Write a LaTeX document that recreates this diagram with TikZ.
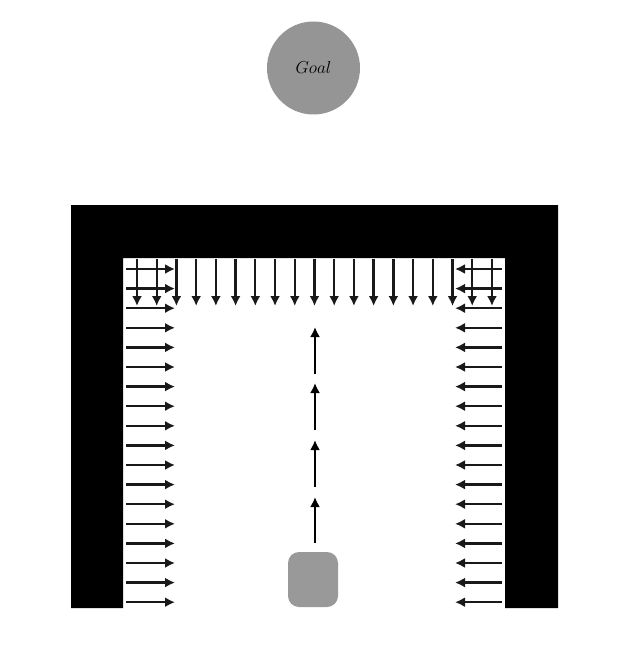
\documentclass[tikz,border=0pt]{standalone}
\usetikzlibrary{arrows.meta}
\definecolor{goalgray}{HTML}{959595}
\definecolor{robotgray}{HTML}{999999}
\tikzset{
  field/.style={line width=2.3pt, draw=black!90, -{Latex[length=10pt,width=10pt]}},
  plan/.style={line width=2.4pt, draw=black, -{Latex[length=10pt,width=10pt]}},
}
\begin{document}
\begin{tikzpicture}[x=1pt,y=-1pt]
\useasboundingbox (0,0) rectangle (628,647);
% walls
\fill[black] (71,205) -- (558,205) -- (558,608) -- (505,608) -- (505,258) -- (123,258) -- (123,608) -- (71,608) -- cycle;
% left wall field
\foreach \i in {0,...,17} {
  \coordinate (ls\i) at (126,269+\i*19.6);
  \coordinate (le\i) at (175,269+\i*19.6);
  \draw[field] (ls\i) -- (le\i);
}
% right wall field
\foreach \i in {0,...,17} {
  \coordinate (rs\i) at (502,269+\i*19.6);
  \coordinate (re\i) at (455,269+\i*19.6);
  \draw[field] (rs\i) -- (re\i);
}
% top wall field
\foreach \i in {0,...,18} {
  \coordinate (ts\i) at (137+\i*19.72,259);
  \coordinate (te\i) at (137+\i*19.72,306);
  \draw[field] (ts\i) -- (te\i);
}
% goal and robot
\node[circle, fill=goalgray, minimum size=93pt, inner sep=0pt] (goal) at (313.5,68) {\fontsize{17}{20}\selectfont$Goal$};
\node[rectangle, rounded corners=11pt, fill=robotgray, minimum width=50pt, minimum height=55pt, inner sep=0pt] (robot) at (313,579.5) {};
% planned path
\coordinate (p0) at (315,543);
\coordinate (p1) at (315,497);
\coordinate (p2) at (315,487);
\coordinate (p3) at (315,440);
\coordinate (p4) at (315,430);
\coordinate (p5) at (315,383);
\coordinate (p6) at (315,374);
\coordinate (p7) at (315,327);
\draw[plan] (p0) -- (p1);
\draw[plan] (p2) -- (p3);
\draw[plan] (p4) -- (p5);
\draw[plan] (p6) -- (p7);
\end{tikzpicture}
\end{document}
